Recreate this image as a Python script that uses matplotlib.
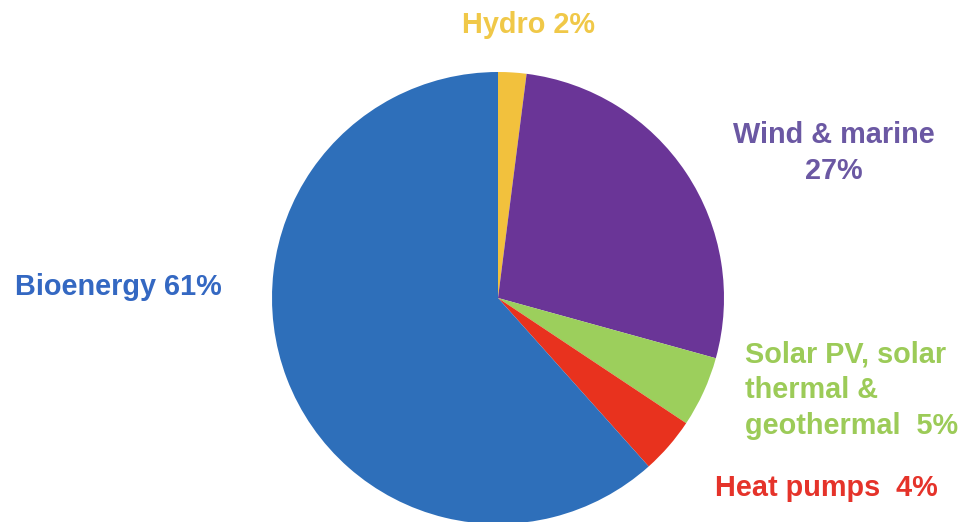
import matplotlib.pyplot as plt

plt.rcParams['font.family'] = ['Liberation Sans', 'DejaVu Sans']

# slices, clockwise from 12 o'clock
labels = ['Hydro 2%', 'Wind & marine\n27%', 'Solar PV, solar\nthermal &\ngeothermal  5%',
          'Heat pumps  4%', 'Bioenergy 61%']
shares = [2, 27, 5, 4, 61]
colors = ['#F2C13D', '#6A3597', '#9CCF5C', '#E8321E', '#2E6FBA']
text_colors = ['#F0C848', '#6B58A3', '#9CCB58', '#E5332A', '#3468C2']

W, H = 964, 522
fig = plt.figure(figsize=(W / 100, H / 100), dpi=100)
ax = fig.add_axes([0, 0, 1, 1])

ax.pie(shares, colors=colors, startangle=90, counterclock=False,
       center=(498, H - 298), radius=226, frame=True,
       wedgeprops=dict(linewidth=0))
ax.set_xlim(0, W)
ax.set_ylim(0, H)
ax.set_aspect('equal')
ax.axis('off')

# label placement (pixel coords, from top)
pos = [(528, 25, 'center'), (834, 153, 'center'), (745, 390, 'left'),
       (715, 488, 'left'), (15, 287, 'left')]
for lab, tc, (x, y, ha) in zip(labels, text_colors, pos):
    ax.text(x, H - y, lab, color=tc, fontsize=20.8, fontweight='bold',
            ha=ha, va='center', multialignment=ha, linespacing=1.36)

fig.savefig('out.png', dpi=100)
